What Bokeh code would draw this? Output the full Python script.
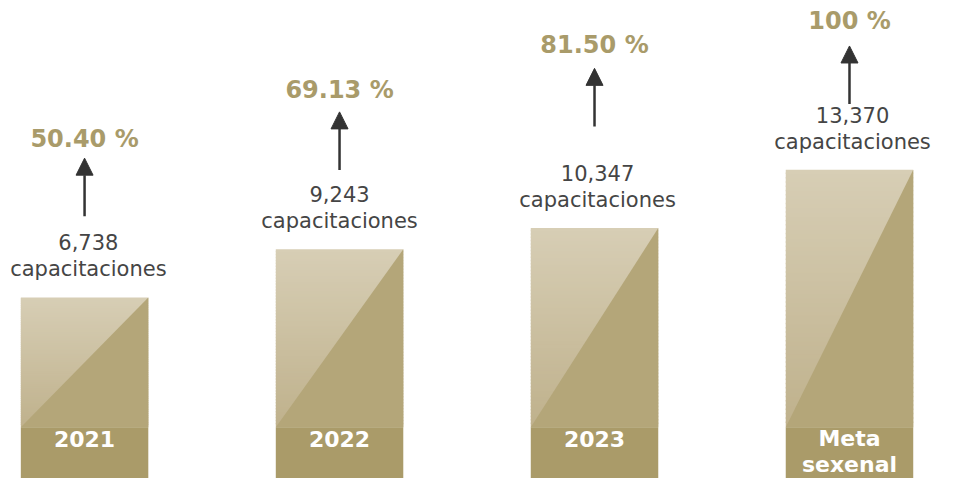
import numpy as np
from bokeh.plotting import figure
from bokeh.models import Range1d, Arrow, NormalHead
from bokeh.core.properties import value
from bokeh.embed import file_html
from bokeh.resources import INLINE

# ---- data ----
categories = ["2021", "2022", "2023", "Meta sexenal"]
capacitaciones = [6738, 9243, 10347, 13370]
porcentajes = [50.40, 69.13, 81.50, 100]
unit_label = "capacitaciones"

# ---- layout / style ----
W, H = 937, 478
SY = H / 494.0
SX = W / 953.0
ZERO_PX = 441 * SY                 # pixel row of value 0 (from top)
PX_FULL = (441 - 175) * SY          # pixel height of the largest bar
upp = max(capacitaciones) / PX_FULL  # data units per pixel
y_end = ZERO_PX * upp
y_start = -(H - ZERO_PX) * upp
step_px = 259.33 * SX
first_px = 85.5 * SX
x_start = -first_px / step_px
x_end = (W - first_px) / step_px
bar_w = 0.5

def px(v):
    return v * SY * upp

arrow_base_px = [84, 82, 105, 68]   # arrow bottom above bar top
arrow_len_px = 60
pct_gap_px = [20, 23, 24, 26]       # percentage center above arrow tip
label_dx = [0.015, 0.0, 0.012, 0.012]  # small horizontal nudge of labels

C_TOP = (0xD7, 0xCE, 0xB5)
C_BOT = (0xBF, 0xB1, 0x8C)
C_DARK = "#b4a679"
C_BAND = "#aa9b69"
C_PCT = "#a99b6a"
C_TXT = "#454545"

p = figure(width=W, height=H, output_backend="svg", toolbar_location=None,
           x_range=Range1d(x_start, x_end), y_range=Range1d(y_start, y_end),
           min_border=0, outline_line_color=None, background_fill_color="white")
p.xaxis.visible = False
p.yaxis.visible = False
p.grid.visible = False

xs = np.arange(len(categories), dtype=float)
lx = xs + np.array(label_dx)

# gradient strips (light upper-left part)
N = 60
sl, sr, sb, st, sc = [], [], [], [], []
for i, v in enumerate(capacitaciones):
    edges = np.linspace(0, v, N + 1)
    for k in range(N):
        t = (k + 0.5) / N
        col = tuple(int(round(C_BOT[j] + (C_TOP[j] - C_BOT[j]) * t)) for j in range(3))
        sl.append(xs[i] - bar_w / 2)
        sr.append(xs[i] + bar_w / 2)
        sb.append(edges[k])
        st.append(edges[k + 1] + (upp * 1.5 if k < N - 1 else 0))
        sc.append("#%02x%02x%02x" % col)
p.quad(left=sl, right=sr, bottom=sb, top=st, fill_color=sc, line_color=None)

# dark lower-right triangles
tri_x = [[x - bar_w / 2, x + bar_w / 2, x + bar_w / 2] for x in xs]
tri_y = [[0, 0, v] for v in capacitaciones]
p.patches(tri_x, tri_y, fill_color=C_DARK, line_color=None)

# bottom band
p.quad(left=xs - bar_w / 2, right=xs + bar_w / 2, bottom=[y_start - 1000] * 4,
       top=[0] * 4, fill_color=C_BAND, line_color=None)

# category labels in band (may be two lines)
cx, cy, ct = [], [], []
for i, c in enumerate(categories):
    words = c.split(" ")
    for j, w in enumerate(words):
        cx.append(xs[i])
        cy.append(-px(12 + 27 * j))
        ct.append(w)
p.text(x=cx, y=cy, text=ct, text_font=value("DejaVu Sans"), text_font_style="bold",
       text_font_size="22px", text_align="center", text_baseline="middle",
       text_color="white")

# value labels
vals = [f"{v:,}" for v in capacitaciones]
p.text(x=lx, y=[v + px(57) for v in capacitaciones], text=vals,
       text_font=value("DejaVu Sans"), text_font_size="21px", text_align="center",
       text_baseline="middle", text_color=C_TXT)
p.text(x=lx, y=[v + px(29) for v in capacitaciones], text=[unit_label] * 4,
       text_font=value("DejaVu Sans"), text_font_size="21px", text_align="center",
       text_baseline="middle", text_color=C_TXT)

# arrows and percentages
pct_txt = []
pct_y = []
for i, v in enumerate(capacitaciones):
    yb = v + px(arrow_base_px[i])
    yt = v + px(arrow_base_px[i] + arrow_len_px)
    p.add_layout(Arrow(end=NormalHead(size=17, fill_color="#333333", line_color="#333333",
                                      line_width=1),
                       x_start=xs[i], y_start=yb, x_end=xs[i], y_end=yt,
                       line_color="#333333", line_width=2.5))
    pv = porcentajes[i]
    pct_txt.append(f"{pv:.0f} %" if float(pv).is_integer() else f"{pv:.2f} %")
    pct_y.append(yt + px(pct_gap_px[i]))

p.text(x=xs, y=pct_y, text=pct_txt, text_font=value("DejaVu Sans"),
       text_font_style="bold", text_font_size="24px", text_align="center",
       text_baseline="middle", text_color=C_PCT)

open("out.html", "w").write(file_html(p, INLINE))
